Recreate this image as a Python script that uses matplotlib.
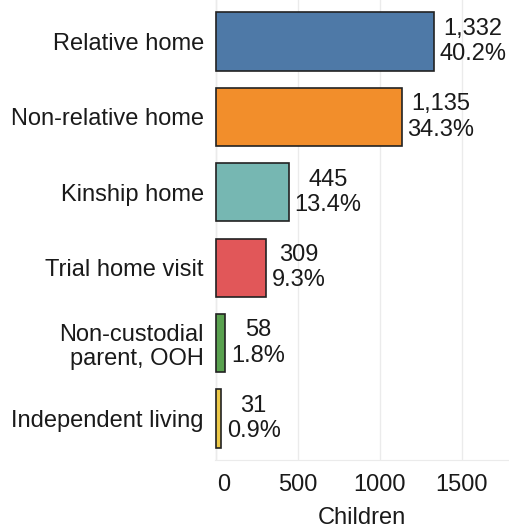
import matplotlib
matplotlib.use("Agg")
import matplotlib.pyplot as plt
from matplotlib.transforms import ScaledTranslation

categories = ["Relative home", "Non-relative home", "Kinship home", "Trial home visit",
              "Non-custodial\nparent, OOH", "Independent living"]
counts = [1332, 1135, 445, 309, 58, 31]
percents = [40.2, 34.3, 13.4, 9.3, 1.8, 0.9]
colors = ["#4E79A7", "#F28E2B", "#76B7B2", "#E15759", "#59A14F", "#EDC948"]
xticks = [0, 500, 1000, 1500]

plt.rcParams['font.family'] = ['Liberation Sans', 'DejaVu Sans']
FS = 17
TXT = "#1a1a1a"

fig = plt.figure(figsize=(5.09, 5.29), dpi=100)
ax = fig.add_axes([215/509, 1 - 460/529, 1 - 215/509, 460/529])

y = list(range(len(categories)))
ax.barh(y, counts, height=0.77, color=colors, edgecolor="#222222", linewidth=1.2, zorder=3)
for yi, c, p in zip(y, counts, percents):
    ax.text(c + 35, yi, f"{c:,}\n{p:.1f}%", ha="left", va="center", multialignment="center",
            fontsize=FS, color=TXT, linespacing=1.2, zorder=4)

ax.set_ylim(len(categories) - 0.45, -0.55)
ax.set_xlim(-5, 1790)
ax.set_yticks(y)
ax.set_yticklabels(categories, fontsize=FS, color=TXT, linespacing=1.15)
ax.set_xticks(xticks)
ax.set_xticklabels([str(t) for t in xticks], fontsize=FS, color=TXT)
ax.set_xlabel("Children", fontsize=FS, color=TXT, labelpad=8)
ax.tick_params(axis="y", length=0, pad=8)
ax.tick_params(axis="x", length=0, pad=10)
lbl0 = ax.get_xticklabels()[0]
lbl0.set_transform(lbl0.get_transform() + ScaledTranslation(8/100, 0, fig.dpi_scale_trans))
ax.grid(axis="x", color="#EBEBEB", linewidth=1.0, zorder=0)
for s in ["top", "right", "left"]:
    ax.spines[s].set_visible(False)
ax.spines["bottom"].set_color("#EBEBEB")
ax.axvline(0, color="#EBEBEB", linewidth=1.0, zorder=0)

fig.savefig("out.png", dpi=100)
